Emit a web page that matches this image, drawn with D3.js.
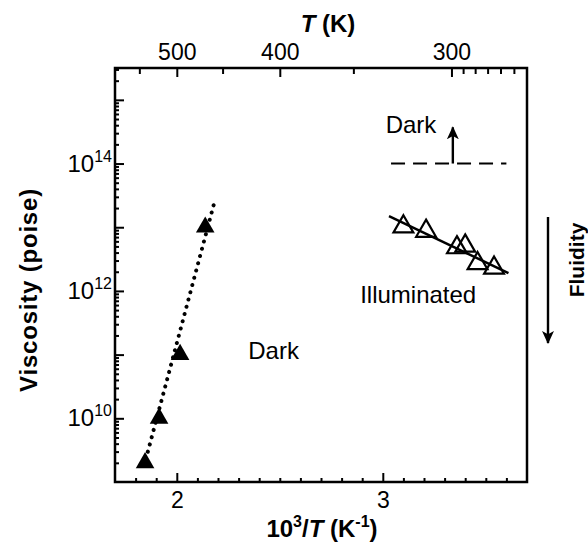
<!DOCTYPE html>
<html><head><meta charset="utf-8">
<script src="https://cdn.jsdelivr.net/npm/d3@7"></script>
<style>
html,body{margin:0;padding:0;background:#fff;}
svg{display:block;font-family:"Liberation Sans",Arial,Helvetica,sans-serif;}
</style></head>
<body>
<svg id="chart" width="588" height="548"></svg>
<script>
// ---- data ----
const xDomain = [1.7, 3.7];             // 10^3/T (K^-1)
const yDomain = [1e9, Math.pow(10, 15.5)]; // viscosity (poise)
const xMajorTicks = [2, 3];
const xMinorTicks = [1.8,1.9,2.1,2.2,2.3,2.4,2.5,2.6,2.7,2.8,2.9,3.1,3.2,3.3,3.4,3.5,3.6];
const tMajorTicks = [500, 400, 300];     // T (K)
const tMinorTicks = [550, 450, 350, 295, 290, 285, 280, 275];
const yLabelTicks = [1e10, 1e12, 1e14];
const yDecadeTicks = [1e11, 1e13, 1e15];

const darkX = [1.846, 1.914, 2.016, 2.138];
const darkV = [2.0e9, 1.0e10, 1.0e11, 1.0e13];
const darkFitX = [1.85, 2.18];
const darkFitV = [2.3e9, 2.3e13];

const illumX = [3.10, 3.21, 3.36, 3.40, 3.46, 3.54];
const illumV = [1.02e13, 8.7e12, 4.8e12, 5.1e12, 2.7e12, 2.3e12];
const illumFitX = [3.03, 3.61];
const illumFitV = [1.5e13, 1.9e12];

const darkLimitX = [3.04, 3.60];
const darkLimitV = [1e14, 1e14];

// ---- layout ----
const svg = d3.select("#chart");
const L = 115, R = 527, T = 68, B = 482;
const x = d3.scaleLinear().domain(xDomain).range([L, R]);
const y = d3.scaleLog().domain(yDomain).range([B, T]);

const defs = svg.append("defs");
defs.append("marker").attr("id","ah").attr("viewBox","0 0 12 12")
  .attr("refX",11).attr("refY",6).attr("markerWidth",13).attr("markerHeight",13)
  .attr("markerUnits","userSpaceOnUse").attr("orient","auto")
  .append("path").attr("d","M0,0.5 L12,6 L0,11.5 L3,6 Z").attr("fill","#000");

// axes (ticks point inward)
function styleAxis(g){ g.select(".domain").remove(); g.selectAll(".tick line").attr("stroke","#000").attr("stroke-width",2); }

svg.append("g").attr("transform",`translate(0,${B})`)
  .call(d3.axisBottom(x).tickValues(xMinorTicks).tickSize(-4).tickFormat(""))
  .call(styleAxis);
const xb = svg.append("g").attr("transform",`translate(0,${B})`)
  .call(d3.axisBottom(x).tickValues(xMajorTicks).tickSize(-9).tickPadding(5).tickFormat(d3.format("d")))
  .call(styleAxis);
xb.selectAll("text").attr("font-size",23).attr("fill","#000").attr("font-family","Liberation Sans, Arial, sans-serif").attr("dy","0.9em");

svg.append("g").attr("transform",`translate(0,${T})`)
  .call(d3.axisTop(x).tickValues(tMinorTicks.map(t=>1000/t)).tickSize(-6).tickFormat(""))
  .call(styleAxis);
const xt = svg.append("g").attr("transform",`translate(0,${T})`)
  .call(d3.axisTop(x).tickValues(tMajorTicks.map(t=>1000/t)).tickSize(-9).tickPadding(8)
        .tickFormat(d=>String(Math.round(1000/d))))
  .call(styleAxis);
xt.selectAll("text").attr("font-size",23).attr("fill","#000").attr("font-family","Liberation Sans, Arial, sans-serif");

// left log axis
const yMinor = [];
for (let e = 9; e <= 15; e++) for (let m = 2; m <= 9; m++) { const v = m*Math.pow(10,e); if (v < yDomain[1]) yMinor.push(v); }
svg.append("g").attr("transform",`translate(${L},0)`)
  .call(d3.axisLeft(y).tickValues(yMinor).tickSize(-4).tickFormat(""))
  .call(styleAxis);
svg.append("g").attr("transform",`translate(${L},0)`)
  .call(d3.axisLeft(y).tickValues(yDecadeTicks.concat(yLabelTicks)).tickSize(-9).tickFormat(""))
  .call(styleAxis);
yLabelTicks.forEach(v=>{
  const t = svg.append("text").attr("x",L-3).attr("y",y(v)+8).attr("text-anchor","end")
    .attr("font-size",24).attr("fill","#000");
  t.append("tspan").text("10");
  t.append("tspan").attr("dy",-10).attr("font-size",16).text(String(Math.round(Math.log10(v))));
});

// frame
svg.append("rect").attr("x",L).attr("y",T).attr("width",R-L).attr("height",B-T)
  .attr("fill","none").attr("stroke","#000").attr("stroke-width",2.5);

// axis titles
const xt2 = svg.append("text").attr("x",322).attr("y",537).attr("text-anchor","middle")
  .attr("font-size",24).attr("font-weight","bold").attr("fill","#000");
xt2.append("tspan").text("10");
xt2.append("tspan").attr("dy",-10).attr("font-size",16).text("3");
xt2.append("tspan").attr("dy",10).text("/");
xt2.append("tspan").attr("font-style","italic").text("T");
xt2.append("tspan").text(" (K");
xt2.append("tspan").attr("dy",-10).attr("font-size",16).text("-1");
xt2.append("tspan").attr("dy",10).text(")");

const tt = svg.append("text").attr("x",328).attr("y",32).attr("text-anchor","middle")
  .attr("font-size",24).attr("font-weight","bold").attr("fill","#000");
tt.append("tspan").attr("font-style","italic").text("T");
tt.append("tspan").text(" (K)");

svg.append("text").attr("transform","translate(37,290) rotate(-90)").attr("text-anchor","middle")
  .attr("font-size",24).attr("font-weight","bold").attr("letter-spacing",0.8).attr("fill","#000")
  .text("Viscosity (poise)");

// series lines
const line = d3.line().x(d=>x(d[0])).y(d=>y(d[1]));
svg.append("path").datum(d3.zip(darkFitX, darkFitV)).attr("d",line)
  .attr("fill","none").attr("stroke","#000").attr("stroke-width",4)
  .attr("stroke-linecap","round").attr("stroke-dasharray","0.1 7.4");
svg.append("path").datum(d3.zip(illumFitX, illumFitV)).attr("d",line)
  .attr("fill","none").attr("stroke","#000").attr("stroke-width",2.5);
svg.append("path").datum(d3.zip(darkLimitX, darkLimitV)).attr("d",line)
  .attr("fill","none").attr("stroke","#000").attr("stroke-width",2).attr("stroke-dasharray","14 8");

// markers
const tri = d3.symbol(d3.symbolTriangle, 150);
svg.append("g").selectAll("path").data(d3.zip(darkX, darkV)).join("path")
  .attr("transform",d=>`translate(${x(d[0])},${y(d[1])})`).attr("d",tri).attr("fill","#000");
const triO = d3.symbol(d3.symbolTriangle, 170);
svg.append("g").selectAll("path").data(d3.zip(illumX, illumV)).join("path")
  .attr("transform",d=>`translate(${x(d[0])},${y(d[1])})`).attr("d",triO)
  .attr("fill","none").attr("stroke","#000").attr("stroke-width",2.2);

// annotations
svg.append("line").attr("x1",x(3.34)).attr("x2",x(3.34)).attr("y1",y(1e14)).attr("y2",y(3.7e14))
  .attr("stroke","#000").attr("stroke-width",2.4).attr("marker-end","url(#ah)");
svg.append("text").attr("x",x(3.014)).attr("y",y(3.0e14)).attr("font-size",24).attr("fill","#000").text("Dark");
svg.append("text").attr("x",x(2.347)).attr("y",y(8.5e10)).attr("font-size",24).attr("fill","#000").text("Dark");
svg.append("text").attr("x",x(2.89)).attr("y",y(6.5e11)).attr("font-size",24).attr("fill","#000").text("Illuminated");

svg.append("line").attr("x1",548).attr("x2",548).attr("y1",217).attr("y2",343)
  .attr("stroke","#000").attr("stroke-width",2.4).attr("marker-end","url(#ah)");
svg.append("text").attr("transform","translate(584,260) rotate(-90)").attr("text-anchor","middle")
  .attr("font-size",21).attr("font-weight","bold").attr("fill","#000").text("Fluidity");
</script>
</body></html>
